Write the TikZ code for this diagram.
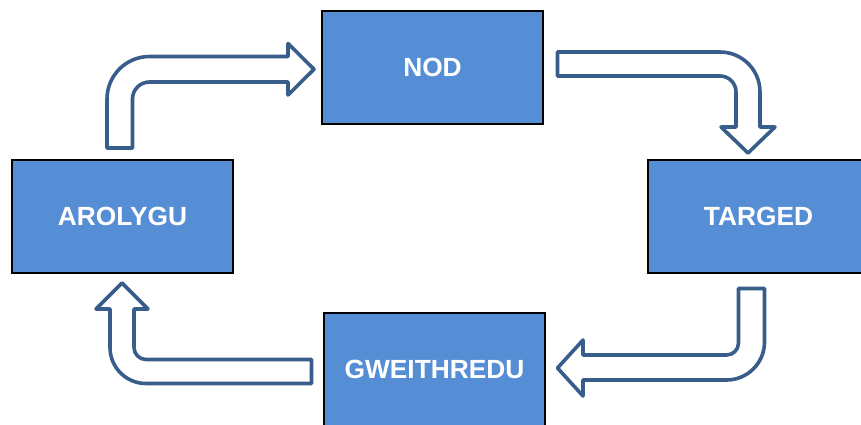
\documentclass[tikz,border=0pt]{standalone}
\usepackage{fontspec}
\setmainfont{Liberation Sans}
\definecolor{boxfill}{HTML}{558ED5}
\definecolor{arrline}{HTML}{385D8A}
\begin{document}
\begin{tikzpicture}[x=1pt,y=-1pt,
  stagebox/.style={draw=black,line width=2.2pt,fill=boxfill,minimum width=221pt,minimum height=113pt,
    inner sep=0pt,text=white,font=\fontsize{26.3}{31}\selectfont\bfseries},
  bentarrow/.style={draw=arrline,fill=white,line width=3.6pt,line join=round}]
\useasboundingbox (0,0) rectangle (861,424);
\node[stagebox] (nod) at (432.5,67.5) {NOD};
\node[stagebox] (arolygu) at (122.5,216.5) {AROLYGU};
\node[stagebox] (targed) at (758.5,216.5) {TARGED};
\node[stagebox] (gweithredu) at (434.5,369.5) {GWEITHREDU};
% AROLYGU -> NOD
\draw[bentarrow] (107,148) -- (107,99) arc[start angle=180,end angle=270,radius=42.5]
  -- (288,56.5) -- (288,43.5) -- (314,69.25) -- (288,95) -- (288,82) -- (149.5,82)
  arc[start angle=270,end angle=180,radius=17] -- (132.5,148) -- cycle;
% NOD -> TARGED
\draw[bentarrow] (557.5,52) -- (720,52) arc[start angle=270,end angle=360,radius=40]
  -- (760,127) -- (775,127) -- (748,153) -- (721,127) -- (736,127) -- (736,92)
  arc[start angle=0,end angle=-90,radius=16] -- (557.5,76) -- cycle;
% TARGED -> GWEITHREDU
\draw[bentarrow] (738.5,288.5) -- (764.5,288.5) -- (764.5,342) arc[start angle=0,end angle=90,radius=38]
  -- (583,380) -- (583,396) -- (557.5,368) -- (583,340) -- (583,355) -- (726.5,355)
  arc[start angle=90,end angle=0,radius=12] -- cycle;
% GWEITHREDU -> AROLYGU
\draw[bentarrow] (311.5,359.5) -- (311.5,383.5) -- (146,383.5) arc[start angle=90,end angle=180,radius=36]
  -- (110,309) -- (96,309) -- (122,283) -- (148,309) -- (134,309) -- (134,347.5)
  arc[start angle=180,end angle=90,radius=12] -- cycle;
\end{tikzpicture}
\end{document}
